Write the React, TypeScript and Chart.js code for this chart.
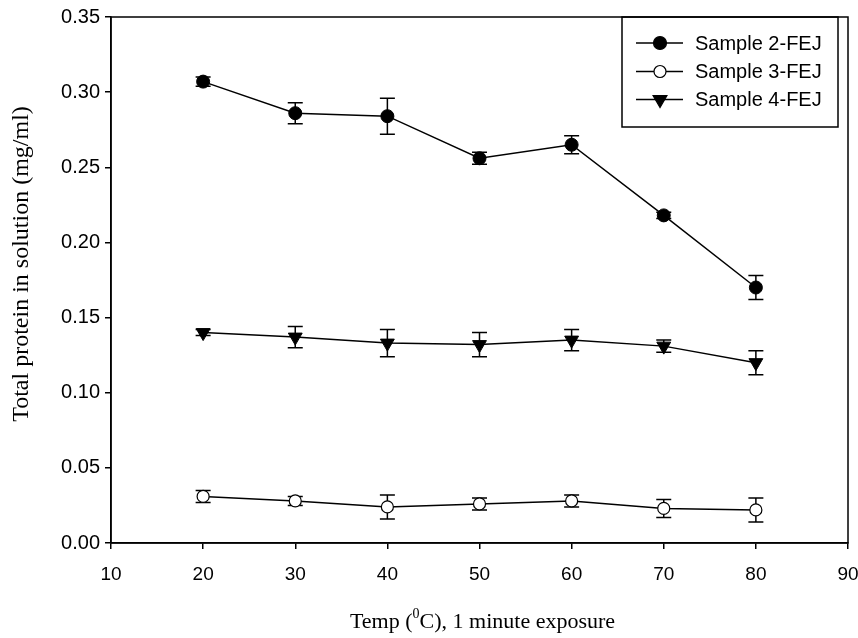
import React, { useEffect, useRef } from "react";
import { Chart, registerables } from "chart.js";

Chart.register(...registerables);

const temps = [20, 30, 40, 50, 60, 70, 80];
const sample2 = [0.307, 0.286, 0.284, 0.256, 0.265, 0.218, 0.170];
const sample2Err = [0.003, 0.007, 0.012, 0.004, 0.006, 0.002, 0.008];
const sample3 = [0.031, 0.028, 0.024, 0.026, 0.028, 0.023, 0.022];
const sample3Err = [0.004, 0.003, 0.008, 0.004, 0.004, 0.006, 0.008];
const sample4 = [0.140, 0.137, 0.133, 0.132, 0.135, 0.131, 0.120];
const sample4Err = [0.002, 0.007, 0.009, 0.008, 0.007, 0.004, 0.008];
const seriesNames = ["Sample 2-FEJ", "Sample 3-FEJ", "Sample 4-FEJ"];
const xTitleParts = ["Temp (", "0", "C), 1 minute exposure"];
const yTitle = "Total protein in solution (mg/ml)";

const SANS = "'Liberation Sans', Arial, sans-serif";
const SERIF = "'Liberation Serif', 'Times New Roman', serif";

const errorsByDataset = [sample2Err, sample3Err, sample4Err];

function drawMarker(ctx: CanvasRenderingContext2D, style: string, r: number, rotDeg: number, x: number, y: number) {
  ctx.beginPath();
  if (style === "circle") {
    ctx.arc(x, y, r, 0, Math.PI * 2);
  } else {
    let rad = (rotDeg * Math.PI) / 180;
    const t = (2 * Math.PI) / 3;
    ctx.moveTo(x + Math.sin(rad) * r, y - Math.cos(rad) * r);
    rad += t;
    ctx.lineTo(x + Math.sin(rad) * r, y - Math.cos(rad) * r);
    rad += t;
    ctx.lineTo(x + Math.sin(rad) * r, y - Math.cos(rad) * r);
    ctx.closePath();
  }
  ctx.fill();
  ctx.stroke();
}

const errorBarPlugin = {
  id: "errorBars",
  beforeDatasetsDraw(chart: any) {
    const ctx = chart.ctx;
    const xs = chart.scales.x;
    const ys = chart.scales.y;
    ctx.save();
    ctx.strokeStyle = "#000";
    ctx.lineWidth = 1.5;
    chart.data.datasets.forEach((ds: any, i: number) => {
      const errs = errorsByDataset[i];
      ds.data.forEach((p: any, j: number) => {
        const px = xs.getPixelForValue(p.x);
        const top = ys.getPixelForValue(p.y + errs[j]);
        const bot = ys.getPixelForValue(p.y - errs[j]);
        const cap = 7.5;
        ctx.beginPath();
        ctx.moveTo(px, top);
        ctx.lineTo(px, bot);
        ctx.moveTo(px - cap, top);
        ctx.lineTo(px + cap, top);
        ctx.moveTo(px - cap, bot);
        ctx.lineTo(px + cap, bot);
        ctx.stroke();
      });
    });
    ctx.restore();
  },
};

const framePlugin = {
  id: "frameAndText",
  afterDraw(chart: any) {
    const ctx = chart.ctx;
    const a = chart.chartArea;
    ctx.save();
    ctx.strokeStyle = "#000";
    ctx.lineWidth = 1.5;
    ctx.strokeRect(a.left, a.top, a.right - a.left, a.bottom - a.top);

    // x title with superscript
    ctx.fillStyle = "#000";
    ctx.textBaseline = "alphabetic";
    const bigFont = `22px ${SERIF}`;
    const smallFont = `14px ${SERIF}`;
    ctx.font = bigFont;
    const w1 = ctx.measureText(xTitleParts[0]).width;
    const w3 = ctx.measureText(xTitleParts[2]).width;
    ctx.font = smallFont;
    const w2 = ctx.measureText(xTitleParts[1]).width;
    const total = w1 + w2 + w3;
    const cx = (a.left + a.right) / 2 + 3;
    const x0 = cx - total / 2;
    const base = 628;
    ctx.font = bigFont;
    ctx.textAlign = "left";
    ctx.fillText(xTitleParts[0], x0, base);
    ctx.font = smallFont;
    ctx.fillText(xTitleParts[1], x0 + w1, base - 10);
    ctx.font = bigFont;
    ctx.fillText(xTitleParts[2], x0 + w1 + w2, base);

    // y title
    ctx.save();
    ctx.translate(28, 264);
    ctx.rotate(-Math.PI / 2);
    ctx.textAlign = "center";
    ctx.textBaseline = "alphabetic";
    ctx.font = `24px ${SERIF}`;
    ctx.fillText(yTitle, 0, 0);
    ctx.restore();

    // legend
    const lx = 622, ly = 17, lw = 216, lh = 110;
    ctx.lineWidth = 1.5;
    ctx.strokeStyle = "#000";
    ctx.strokeRect(lx, ly, lw, lh);
    const rows = [43, 71.5, 99.5];
    const styles = [
      { fill: "#000", style: "circle", rot: 0, r: 6.5 },
      { fill: "#fff", style: "circle", rot: 0, r: 6 },
      { fill: "#000", style: "triangle", rot: 180, r: 8 },
    ];
    rows.forEach((ry, i) => {
      ctx.beginPath();
      ctx.lineWidth = 1.5;
      ctx.strokeStyle = "#000";
      ctx.moveTo(636, ry);
      ctx.lineTo(683, ry);
      ctx.stroke();
      ctx.fillStyle = styles[i].fill;
      ctx.lineWidth = 1.2;
      drawMarker(ctx, styles[i].style, styles[i].r, styles[i].rot, 660, ry);
      ctx.fillStyle = "#000";
      ctx.font = `20px ${SANS}`;
      ctx.textAlign = "left";
      ctx.textBaseline = "middle";
      ctx.fillText(seriesNames[i], 695, ry + 1);
    });
    ctx.restore();
  },
};

export default function App() {
  const ref = useRef<HTMLCanvasElement | null>(null);
  useEffect(() => {
    if (!ref.current) return;
    const mk = (vals: number[]) => temps.map((t, i) => ({ x: t, y: vals[i] }));
    const chart = new Chart(ref.current, {
      type: "line",
      data: {
        datasets: [
          {
            label: seriesNames[0],
            data: mk(sample2),
            borderColor: "#000",
            borderWidth: 1.5,
            backgroundColor: "#000",
            pointStyle: "circle",
            pointRadius: 6.5,
            pointBackgroundColor: "#000",
            pointBorderColor: "#000",
            pointBorderWidth: 1,
          },
          {
            label: seriesNames[1],
            data: mk(sample3),
            borderColor: "#000",
            borderWidth: 1.5,
            backgroundColor: "#fff",
            pointStyle: "circle",
            pointRadius: 6,
            pointBackgroundColor: "#fff",
            pointBorderColor: "#000",
            pointBorderWidth: 1.2,
          },
          {
            label: seriesNames[2],
            data: mk(sample4),
            borderColor: "#000",
            borderWidth: 1.5,
            backgroundColor: "#000",
            pointStyle: "triangle",
            pointRotation: 180,
            pointRadius: 8,
            pointBackgroundColor: "#000",
            pointBorderColor: "#000",
            pointBorderWidth: 1,
          },
        ],
      },
      options: {
        responsive: false,
        animation: false,
        devicePixelRatio: 1,
        layout: { padding: { top: 14, right: 10, left: 0, bottom: 0 } },
        plugins: { legend: { display: false }, tooltip: { enabled: false } },
        scales: {
          x: {
            type: "linear",
            min: 10,
            max: 90,
            ticks: { stepSize: 10, color: "#000", font: { family: SANS, size: 19 }, padding: 14 },
            grid: { drawOnChartArea: false, drawTicks: true, tickLength: 6, color: "#000", lineWidth: 1.5 },
            border: { display: true, color: "#000", width: 1.5 },
            afterFit: (s: any) => { s.height = 95; s.paddingRight = 0; s.paddingLeft = 0; },
          },
          y: {
            type: "linear",
            min: 0,
            max: 0.35,
            ticks: {
              stepSize: 0.05,
              color: "#000",
              font: { family: SANS, size: 20 },
              padding: 5,
              callback: (v: any) => Number(v).toFixed(2),
            },
            grid: { drawOnChartArea: false, drawTicks: true, tickLength: 6, color: "#000", lineWidth: 1.5 },
            border: { display: true, color: "#000", width: 1.5 },
            afterFit: (s: any) => { s.width = 111; },
          },
        },
      } as any,
      plugins: [errorBarPlugin, framePlugin],
    });
    return () => chart.destroy();
  }, []);
  return (
    <div style={{ position: "absolute", left: 0, top: 0, width: 858, height: 638, background: "#fff" }}>
      <canvas ref={ref} width={858} height={638} />
    </div>
  );
}
